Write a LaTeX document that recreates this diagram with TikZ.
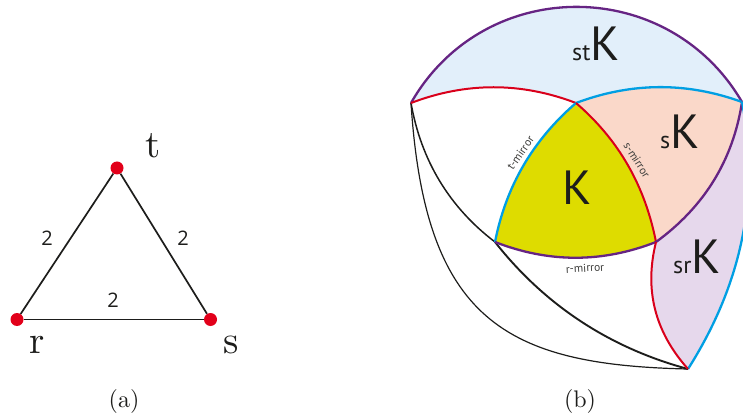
\documentclass[tikz,border=0pt]{standalone}
\usepackage{fontspec}
\newfontfamily\labelfont{PT Sans}
\newfontfamily\digitfont{Open Sans}
\definecolor{ink}{HTML}{1D1D1B}
\definecolor{vred}{HTML}{E2001A}
\definecolor{mred}{HTML}{D9001B}
\definecolor{mblue}{HTML}{009FE3}
\definecolor{mpurple}{HTML}{662483}
\definecolor{fblue}{HTML}{E2EFFA}
\definecolor{fpink}{HTML}{FAD8C9}
\definecolor{flilac}{HTML}{E6D8EC}
\definecolor{fyellow}{HTML}{DEDC00}
\newcommand{\lf}[1]{\fontsize{#1}{#1}\selectfont}
\tikzset{
  vertexdot/.style={circle,fill=vred,draw=none,minimum size=13pt,inner sep=0pt},
  edgeline/.style={draw=ink,line width=1.7pt},
  gensym/.style={font=\lf{10},scale=3.9,text=ink,inner sep=0pt},
  order/.style={font=\digitfont\lf{20},text=ink,inner sep=0pt},
  caption/.style={font=\lf{10},scale=2.4,text=ink,inner sep=0pt},
  mirrorlabel/.style={font=\labelfont\lf{11.5},text=ink!85,inner sep=0pt},
  chamber/.style={font=\labelfont\lf{48},text=ink,inner sep=0pt,anchor=base west},
  redarc/.style={draw=mred,line width=2pt},
  bluearc/.style={draw=mblue,line width=2.3pt},
  purplearc/.style={draw=mpurple,line width=2.3pt},
  blackthick/.style={draw=ink,line width=1.9pt},
  blackmid/.style={draw=ink,line width=1.5pt},
  blackthin/.style={draw=ink,line width=1.2pt},
}
\begin{document}
\begin{tikzpicture}[x=1pt,y=-1pt]
\useasboundingbox (0,0) rectangle (743,419);
% panel (a)
\node[vertexdot] (t) at (117,168) {};
\node[vertexdot] (r) at (17,319.5) {};
\node[vertexdot] (s) at (210.5,319.5) {};
\draw[edgeline] (t) -- (r);
\draw[edgeline] (t) -- (s);
\draw[edgeline] (r) -- (s);
\node[gensym] at (153,146) {t};
\node[gensym] at (37,345) {r};
\node[gensym] at (231,345) {s};
\node[order] at (47,238) {2};
\node[order] at (183,238) {2};
\node[order] at (113,300) {2};
\node[caption] at (124,401) {(a)};
\node[caption] at (580,401) {(b)};
% panel (b)
\coordinate (A) at (411,103);
\coordinate (B) at (742,102);
\coordinate (C) at (576,103);
\coordinate (D) at (495,242);
\coordinate (E) at (656,242);
\coordinate (F) at (688,369);
\begin{scope}
\clip (0,0) rectangle (743,419);
\fill[fblue] (A) .. controls (484,-25) and (668,-25) .. (B)
  .. controls (687,82) and (632,82) .. (C)
  .. controls (521,82) and (466,82) .. (A) -- cycle;
\fill[fpink] (C) .. controls (632,82) and (687,82) .. (B)
  .. controls (733,160.5) and (704,207) .. (E)
  .. controls (645,186) and (619,140) .. (C) -- cycle;
\fill[flilac] (B) .. controls (761,198) and (740,287) .. (F)
  .. controls (655,332) and (644,290) .. (E)
  .. controls (704,207) and (733,160.5) .. (B) -- cycle;
\fill[fyellow] (C) .. controls (619,140) and (645,186) .. (E)
  .. controls (602,263) and (549,263) .. (D)
  .. controls (506,186) and (533,140) .. (C) -- cycle;
\draw[blackthin] (A) .. controls (425,320) and (505,365) .. (F);
\draw[blackmid] (A) .. controls (421,160) and (449,207) .. (D);
\draw[blackthick] (D) .. controls (545,305.5) and (610,348) .. (F);
\draw[purplearc] (A) .. controls (484,-25) and (668,-25) .. (B);
\draw[redarc] (A) .. controls (466,82) and (521,82) .. (C);
\draw[bluearc] (C) .. controls (632,82) and (687,82) .. (B);
\draw[bluearc] (C) .. controls (533,140) and (506,186) .. (D);
\draw[redarc] (C) .. controls (619,140) and (645,186) .. (E);
\draw[purplearc] (D) .. controls (549,263) and (602,263) .. (E);
\draw[purplearc] (E) .. controls (704,207) and (733,160.5) .. (B);
\draw[bluearc] (B) .. controls (761,198) and (740,287) .. (F);
\draw[redarc] (E) .. controls (644,290) and (655,332) .. (F);
\end{scope}
\node[chamber] (stK) at (572,61) {{\lf{24}st}K};
\node[chamber] (sK) at (660,149) {{\lf{24}s}K};
\node[chamber] (K) at (562,205) {K};
\node[chamber] (srK) at (673,273) {{\lf{24}sr}K};
\node[mirrorlabel,rotate=55] (tm) at (520.5,153) {t-mirror};
\node[mirrorlabel,rotate=-58] (sm) at (637,160) {s-mirror};
\node[mirrorlabel,rotate=3] (rm) at (585,268) {r-mirror};
\end{tikzpicture}
\end{document}
